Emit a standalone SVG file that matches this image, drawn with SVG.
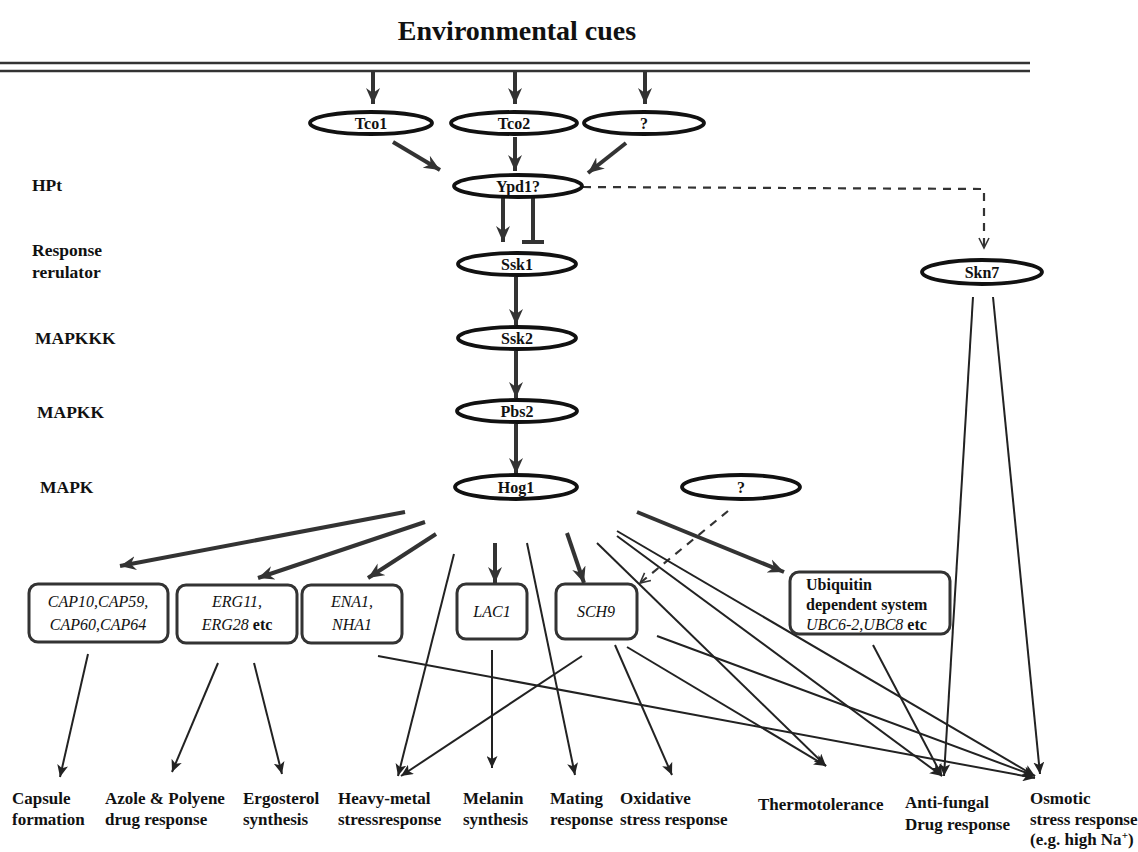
<svg xmlns="http://www.w3.org/2000/svg" width="1138" height="852" viewBox="0 0 1138 852">
<style>
.bg{fill:#ffffff}
.ell{fill:#ffffff;stroke:#111;stroke-width:3.8}
.box{fill:#ffffff;stroke:#333;stroke-width:3}
.lbl{font-family:"Liberation Serif","Times New Roman",serif;font-weight:bold;fill:#111}
.nl{font-family:"Liberation Serif","Times New Roman",serif;font-weight:bold;font-size:16px;fill:#111;text-anchor:middle}
.gene{font-family:"Liberation Serif","Times New Roman",serif;font-style:italic;font-size:16px;fill:#111;text-anchor:middle}
.side{font-family:"Liberation Serif","Times New Roman",serif;font-weight:bold;font-size:17.5px;fill:#111}
.ubi{font-family:"Liberation Serif","Times New Roman",serif;font-weight:bold;font-size:16px;fill:#111}
.bot{font-family:"Liberation Serif","Times New Roman",serif;font-weight:bold;font-size:17px;fill:#111}
.thick{stroke:#333;stroke-width:4;fill:none}
.thin{stroke:#222;stroke-width:2;fill:none}
.dash{stroke:#333;stroke-width:2.2;fill:none;stroke-dasharray:8 7}
.mem{stroke:#333;stroke-width:2.5}
</style>
<defs>
<marker id="ah" markerWidth="18" markerHeight="16" refX="16" refY="8" orient="auto" markerUnits="userSpaceOnUse"><path d="M0,1 L16,8 L0,15 L5,8 z" fill="#333"/></marker>
<marker id="as" markerWidth="13" markerHeight="11" refX="12" refY="5.5" orient="auto" markerUnits="userSpaceOnUse"><path d="M0,0 L12,5.5 L0,11 L3,5.5 z" fill="#222"/></marker>
<marker id="ao" markerWidth="13" markerHeight="12" refX="11" refY="6" orient="auto" markerUnits="userSpaceOnUse"><path d="M1,1 L11,6 L1,11" fill="none" stroke="#333" stroke-width="1.6"/></marker>
</defs>
<rect class="bg" x="0" y="0" width="1138" height="852"/>

<text class="lbl" x="517" y="40" font-size="28" text-anchor="middle">Environmental cues</text>
<g id="membrane">
<line class="mem" x1="0" y1="63" x2="1030" y2="63"/>
<line class="mem" x1="0" y1="71" x2="1030" y2="71"/>
</g>

<g id="level-labels">
<text class="side" x="32" y="191">HPt</text>
<text class="side" x="32" y="256">Response</text>
<text class="side" x="32" y="278">rerulator</text>
<text class="side" x="35" y="344" font-size="19">MAPKKK</text>
<text class="side" x="37" y="418" font-size="19">MAPKK</text>
<text class="side" x="40" y="493" font-size="19">MAPK</text>
</g>

<g id="connectors">
<line class="thick" x1="373" y1="72" x2="373" y2="104" marker-end="url(#ah)"/>
<line class="thick" x1="515" y1="72" x2="515" y2="104" marker-end="url(#ah)"/>
<line class="thick" x1="645" y1="72" x2="645" y2="104" marker-end="url(#ah)"/>
<line class="thick" x1="393" y1="142" x2="440" y2="170" marker-end="url(#ah)"/>
<line class="thick" x1="515" y1="137" x2="515" y2="171" marker-end="url(#ah)"/>
<line class="thick" x1="626" y1="143" x2="588" y2="173" marker-end="url(#ah)"/>
<line class="thick" x1="503" y1="198" x2="503" y2="242" marker-end="url(#ah)"/>
<line class="thick" x1="533" y1="198" x2="533" y2="242"/>
<line class="thick" x1="522" y1="242" x2="544" y2="242"/>
<line class="thick" x1="516" y1="277" x2="516" y2="325" marker-end="url(#ah)"/>
<line class="thick" x1="516" y1="351" x2="516" y2="398" marker-end="url(#ah)"/>
<line class="thick" x1="516" y1="424" x2="516" y2="474" marker-end="url(#ah)"/>
<polyline class="dash" points="583,187 984,189 984,248" marker-end="url(#ao)"/>
<line class="thick" x1="405" y1="512" x2="120" y2="566" marker-end="url(#ah)"/>
<line class="thick" x1="425" y1="522" x2="258" y2="578" marker-end="url(#ah)"/>
<line class="thick" x1="436" y1="534" x2="368" y2="578" marker-end="url(#ah)"/>
<line class="thick" x1="495" y1="543" x2="495" y2="583" marker-end="url(#ah)"/>
<line class="thick" x1="567" y1="533" x2="584" y2="583" marker-end="url(#ah)"/>
<line class="thick" x1="637" y1="512" x2="784" y2="572" marker-end="url(#ah)"/>
<line class="dash" x1="728" y1="511" x2="640" y2="583" marker-end="url(#ao)"/>
<line class="thin" x1="88" y1="654" x2="60" y2="777" marker-end="url(#as)"/>
<line class="thin" x1="218" y1="663" x2="172" y2="772" marker-end="url(#as)"/>
<line class="thin" x1="254" y1="663" x2="282" y2="774" marker-end="url(#as)"/>
<line class="thin" x1="454" y1="554" x2="398" y2="776" marker-end="url(#as)"/>
<line class="thin" x1="582" y1="656" x2="401" y2="776" marker-end="url(#as)"/>
<line class="thin" x1="492" y1="650" x2="492" y2="768" marker-end="url(#as)"/>
<line class="thin" x1="527" y1="543" x2="575" y2="775" marker-end="url(#as)"/>
<line class="thin" x1="615" y1="645" x2="672" y2="775" marker-end="url(#as)"/>
<line class="thin" x1="597" y1="543" x2="826" y2="766" marker-end="url(#as)"/>
<line class="thin" x1="627" y1="647" x2="826" y2="766" marker-end="url(#as)"/>
<line class="thin" x1="617" y1="531" x2="1035" y2="776" marker-end="url(#as)"/>
<line class="thin" x1="617" y1="536" x2="942" y2="776" marker-end="url(#as)"/>
<line class="thin" x1="657" y1="636" x2="1035" y2="776" marker-end="url(#as)"/>
<line class="thin" x1="378" y1="656" x2="1035" y2="778" marker-end="url(#as)"/>
<line class="thin" x1="873" y1="645" x2="942" y2="776" marker-end="url(#as)"/>
<line class="thin" x1="973" y1="297" x2="944" y2="776" marker-end="url(#as)"/>
<line class="thin" x1="993" y1="297" x2="1040" y2="774" marker-end="url(#as)"/>
</g>

<g id="Tco1"><ellipse class="ell" cx="371" cy="123" rx="61" ry="11"/><text class="nl" x="371" y="129">Tco1</text></g>
<g id="Tco2"><ellipse class="ell" cx="514" cy="123" rx="63" ry="11"/><text class="nl" x="514" y="129">Tco2</text></g>
<g id="unknown1"><ellipse class="ell" cx="644" cy="123" rx="60" ry="11"/><text class="nl" x="644" y="129">?</text></g>
<g id="Ypd1"><ellipse class="ell" cx="518" cy="186" rx="64" ry="11"/><text class="nl" x="518" y="192">Ypd1?</text></g>
<g id="Ssk1"><ellipse class="ell" cx="517" cy="264" rx="59" ry="11"/><text class="nl" x="517" y="270">Ssk1</text></g>
<g id="Ssk2"><ellipse class="ell" cx="517" cy="338" rx="59" ry="11"/><text class="nl" x="517" y="344">Ssk2</text></g>
<g id="Pbs2"><ellipse class="ell" cx="517" cy="411" rx="60" ry="11"/><text class="nl" x="517" y="417">Pbs2</text></g>
<g id="Hog1"><ellipse class="ell" cx="516" cy="487" rx="61" ry="12"/><text class="nl" x="516" y="493">Hog1</text></g>
<g id="unknown2"><ellipse class="ell" cx="741" cy="487" rx="59" ry="12"/><text class="nl" x="741" y="493">?</text></g>
<g id="Skn7"><ellipse class="ell" cx="982" cy="272" rx="60" ry="12"/><text class="nl" x="982" y="278">Skn7</text></g>

<g id="CAP"><rect class="box" x="29" y="584" width="139" height="58" rx="9"/><text class="gene" x="98" y="607">CAP10,CAP59,</text><text class="gene" x="98" y="630">CAP60,CAP64</text></g>
<g id="ERG"><rect class="box" x="177" y="585" width="120" height="58" rx="9"/><text class="gene" x="237" y="607">ERG11,</text><text class="gene" x="237" y="630">ERG28 <tspan font-style="normal" font-weight="bold">etc</tspan></text></g>
<g id="ENA"><rect class="box" x="302" y="585" width="100" height="58" rx="9"/><text class="gene" x="352" y="607">ENA1,</text><text class="gene" x="352" y="630">NHA1</text></g>
<g id="LAC1"><rect class="box" x="457" y="584" width="70" height="55" rx="9"/><text class="gene" x="492" y="617">LAC1</text></g>
<g id="SCH9"><rect class="box" x="556" y="584" width="81" height="55" rx="9"/><text class="gene" x="596" y="617">SCH9</text></g>
<g id="Ubiquitin"><rect class="box" x="790" y="572" width="160" height="62" rx="9"/><text class="ubi" x="806" y="590">Ubiquitin</text><text class="ubi" x="806" y="610">dependent system</text><text class="ubi" x="806" y="630"><tspan font-style="italic" font-weight="normal">UBC6-2,UBC8</tspan> etc</text></g>

<g id="outputs">
<text class="bot" x="12" y="804">Capsule</text><text class="bot" x="12" y="825">formation</text>
<text class="bot" x="105" y="804">Azole &amp; Polyene</text><text class="bot" x="105" y="825">drug response</text>
<text class="bot" x="243" y="804">Ergosterol</text><text class="bot" x="243" y="825">synthesis</text>
<text class="bot" x="338" y="804">Heavy-metal</text><text class="bot" x="338" y="825">stressresponse</text>
<text class="bot" x="463" y="804">Melanin</text><text class="bot" x="463" y="825">synthesis</text>
<text class="bot" x="550" y="804">Mating</text><text class="bot" x="550" y="825">response</text>
<text class="bot" x="620" y="804">Oxidative</text><text class="bot" x="620" y="825">stress response</text>
<text class="bot" x="758" y="810">Thermotolerance</text>
<text class="bot" x="905" y="808">Anti-fungal</text><text class="bot" x="905" y="830">Drug response</text>
<text class="bot" x="1030" y="804">Osmotic</text><text class="bot" x="1030" y="825">stress response</text><text class="bot" x="1030" y="845">(e.g. high Na<tspan font-size="11" dy="-6">+</tspan><tspan dy="6">)</tspan></text>
</g>
</svg>
